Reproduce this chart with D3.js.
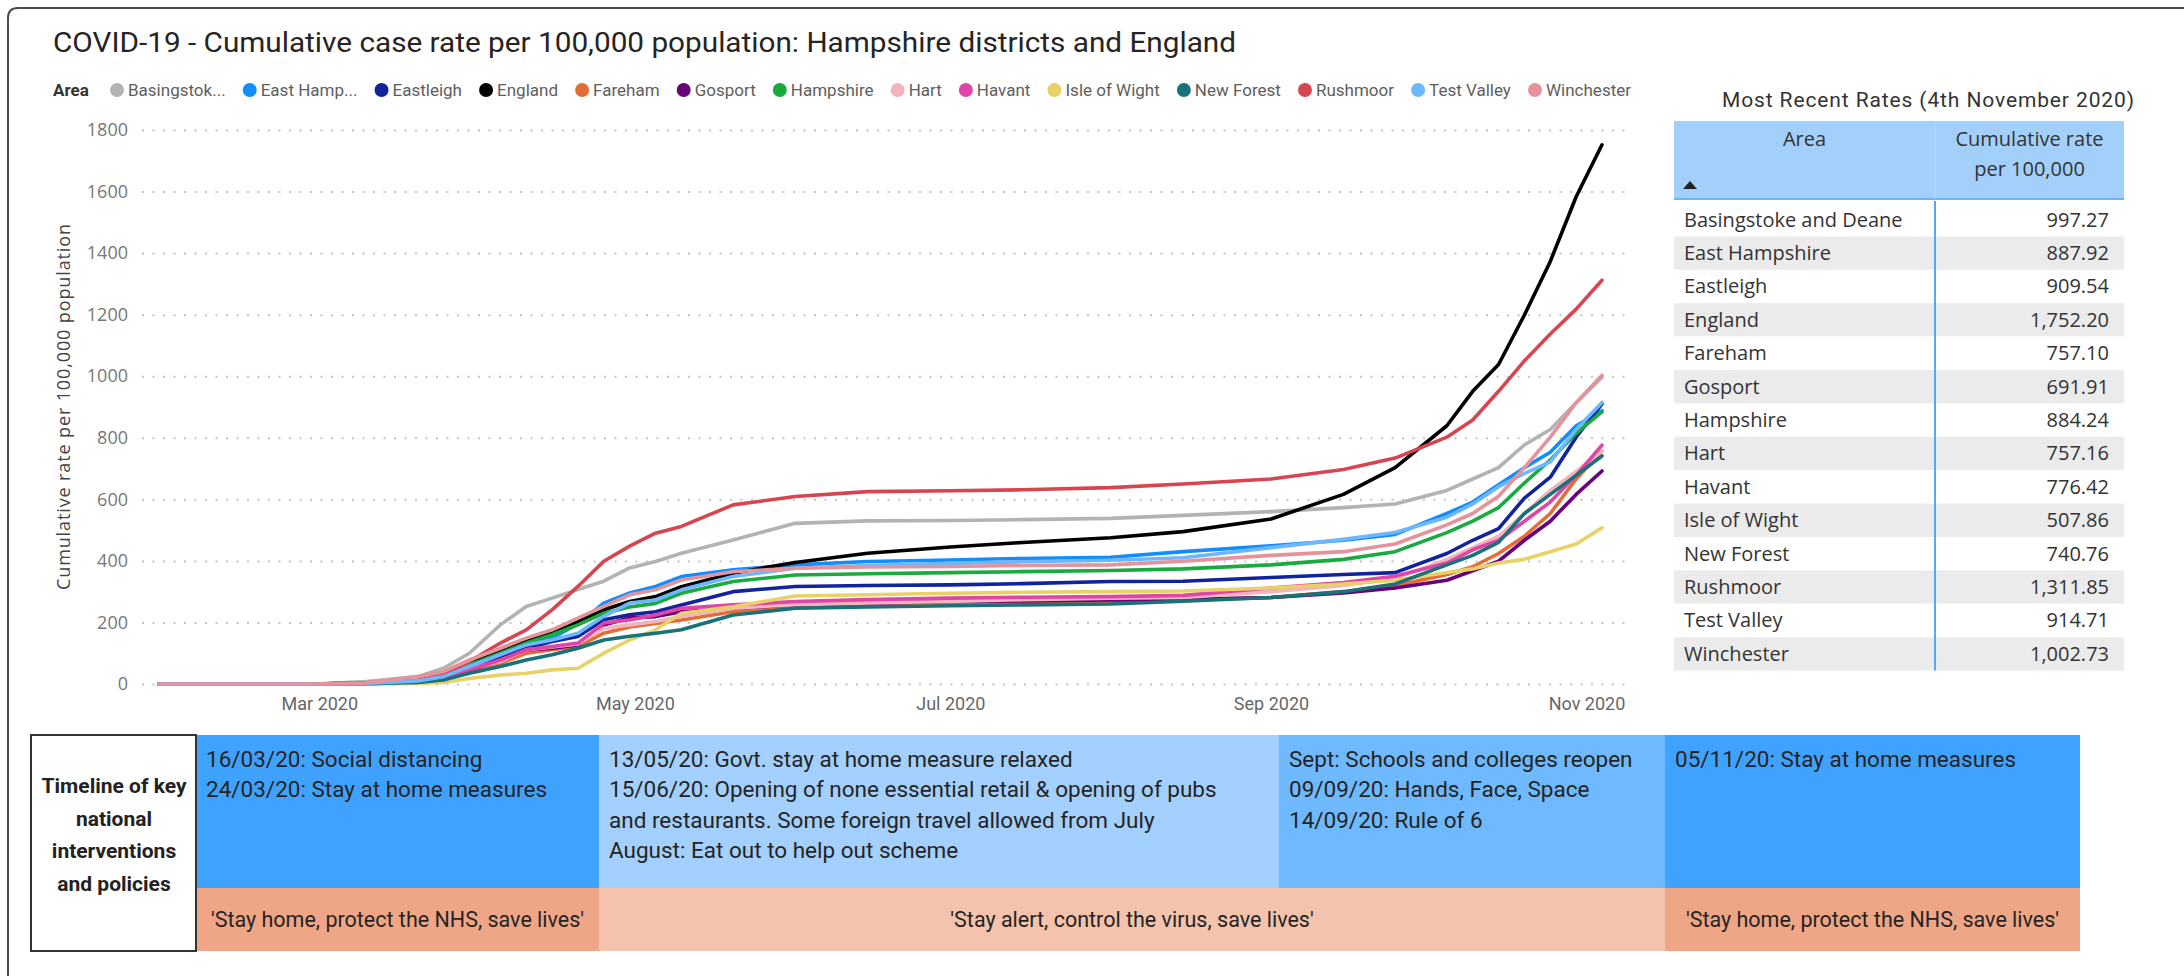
<!DOCTYPE html>
<html>
<head>
<meta charset="utf-8">
<script src="https://cdn.jsdelivr.net/npm/d3@7"></script>
<style>
  body { margin: 0; background: #fff; }
  text { font-family: Roboto, sans-serif; }
  .segoe { font-family: "Open Sans", "Noto Sans", sans-serif; }
</style>
</head>
<body>
<svg id="chart" width="2184" height="976"></svg>
<script>
// ---- data ----
var dates = ["2020-01-30", "2020-02-29", "2020-03-10", "2020-03-20", "2020-03-25", "2020-03-30", "2020-04-05",
  "2020-04-10", "2020-04-15", "2020-04-20", "2020-04-25", "2020-04-30", "2020-05-05", "2020-05-10", "2020-05-20",
  "2020-06-01", "2020-06-15", "2020-07-01", "2020-07-15", "2020-08-01", "2020-08-15", "2020-09-01", "2020-09-15",
  "2020-09-25", "2020-10-05", "2020-10-10", "2020-10-15", "2020-10-20", "2020-10-25", "2020-10-30", "2020-11-04"];

var areas = ["Basingstoke and Deane", "East Hampshire", "Eastleigh", "England", "Fareham", "Gosport", "Hampshire",
  "Hart", "Havant", "Isle of Wight", "New Forest", "Rushmoor", "Test Valley", "Winchester"];
var legendLabels = ["Basingstok...", "East Hamp...", "Eastleigh", "England", "Fareham", "Gosport", "Hampshire",
  "Hart", "Havant", "Isle of Wight", "New Forest", "Rushmoor", "Test Valley", "Winchester"];
var colors = ["#b3b3b3", "#118dff", "#12239e", "#000000", "#e66c37", "#6b007b", "#1aab40",
  "#f2b5bd", "#e044a7", "#e8d166", "#197278", "#d64550", "#6cb7ff", "#e6929a"];

var basingstoke = [0, 0, 8, 24, 51, 100, 192, 252, 279, 307, 334, 377, 398, 425, 468, 522, 530, 531, 534, 538, 548, 560, 573, 585, 629, 666, 703, 777, 827, 914, 997];
var eastHampshire = [0, 0, 2, 10, 24, 60, 100, 127, 149, 195, 263, 296, 317, 349, 371, 387, 398, 403, 408, 412, 430, 449, 467, 486, 554, 591, 647, 703, 753, 839, 888];
var eastleigh = [0, 0, 2, 8, 24, 55, 89, 115, 138, 154, 209, 225, 235, 257, 300, 317, 320, 322, 326, 333, 334, 346, 356, 362, 424, 467, 505, 604, 672, 802, 910];
var england = [0, 0, 3, 10, 29, 67, 105, 138, 165, 203, 241, 268, 284, 316, 360, 395, 425, 445, 460, 475, 495, 536, 616, 703, 839, 951, 1038, 1199, 1373, 1583, 1752];
var fareham = [0, 0, 1, 6, 20, 40, 67, 100, 111, 122, 165, 185, 197, 208, 235, 251, 256, 260, 264, 268, 272, 281, 300, 319, 356, 381, 424, 480, 554, 666, 757];
var gosport = [0, 0, 1, 6, 22, 45, 78, 111, 116, 127, 192, 215, 219, 235, 246, 257, 262, 268, 270, 273, 275, 281, 296, 312, 337, 368, 399, 467, 529, 616, 692];
var hampshire = [0, 0, 2, 9, 29, 62, 100, 133, 160, 192, 230, 250, 262, 295, 333, 354, 358, 362, 365, 369, 374, 387, 405, 430, 492, 529, 573, 653, 728, 815, 884];
var hart = [0, 0, 2, 8, 22, 50, 73, 111, 120, 130, 181, 192, 203, 219, 246, 258, 263, 268, 274, 279, 281, 300, 320, 343, 405, 443, 480, 554, 629, 691, 757];
var havant = [0, 0, 2, 8, 22, 46, 78, 111, 122, 133, 198, 208, 224, 246, 257, 268, 274, 279, 282, 284, 288, 312, 330, 350, 393, 436, 467, 529, 591, 678, 776];
var isleOfWight = [0, 0, 0, 2, 5, 18, 29, 35, 46, 51, 100, 143, 176, 230, 251, 286, 290, 295, 298, 300, 302, 312, 325, 337, 362, 374, 393, 405, 430, 455, 508];
var newForest = [0, 0, 1, 5, 13, 35, 57, 78, 95, 116, 143, 155, 165, 176, 224, 246, 250, 254, 257, 260, 269, 281, 300, 325, 387, 418, 460, 554, 616, 678, 741];
var rushmoor = [0, 0, 4, 12, 29, 73, 133, 176, 241, 317, 399, 448, 490, 512, 582, 609, 625, 628, 631, 638, 650, 666, 697, 734, 802, 858, 951, 1050, 1137, 1218, 1312];
var testValley = [0, 0, 2, 10, 24, 57, 95, 127, 143, 165, 220, 263, 273, 306, 349, 376, 385, 392, 397, 402, 410, 443, 470, 492, 542, 585, 641, 684, 722, 827, 915];
var winchester = [0, 0, 3, 24, 40, 78, 116, 149, 176, 214, 252, 290, 306, 338, 365, 376, 380, 382, 385, 387, 399, 418, 430, 455, 517, 554, 610, 703, 802, 914, 1003];

var latestRates = [997.27, 887.92, 909.54, 1752.20, 757.10, 691.91, 884.24, 757.16, 776.42, 507.86, 740.76, 1311.85, 914.71, 1002.73];

var yTicks = [0, 200, 400, 600, 800, 1000, 1200, 1400, 1600, 1800];
var xTicks = ["2020-03-01", "2020-05-01", "2020-07-01", "2020-09-01", "2020-11-01"];

var timelineText = [
  ["16/03/20: Social distancing", "24/03/20: Stay at home measures"],
  ["13/05/20: Govt. stay at home measure relaxed", "15/06/20: Opening of none essential retail & opening of pubs",
   "and restaurants. Some foreign travel allowed from July", "August: Eat out to help out scheme"],
  ["Sept: Schools and colleges reopen", "09/09/20: Hands, Face, Space", "14/09/20: Rule of 6"],
  ["05/11/20: Stay at home measures"]
];
var sloganText = ["'Stay home, protect the NHS, save lives'", "'Stay alert, control the virus, save lives'",
  "'Stay home, protect the NHS, save lives'"];
var timelineLabel = ["Timeline of key", "national", "interventions", "and policies"];

var seriesValues = [basingstoke, eastHampshire, eastleigh, england, fareham, gosport, hampshire,
  hart, havant, isleOfWight, newForest, rushmoor, testValley, winchester];

// ---- drawing ----
var parseDate = d3.timeParse("%Y-%m-%d");
var svg = d3.select("#chart");

// outer frame (top and left edge of the report page)
svg.append("path")
  .attr("d", "M8,976 L8,18 Q8,8 18,8 L2184,8")
  .style("fill", "none")
  .style("stroke", "#4a4a4a")
  .style("stroke-width", 2);

svg.append("text")
  .attr("x", 53).attr("y", 42)
  .attr("dy", "0.35em")
  .attr("textLength", 1183).attr("lengthAdjust", "spacingAndGlyphs")
  .style("font-size", "28px")
  .style("fill", "#252423")
  .text("COVID-19 - Cumulative case rate per 100,000 population: Hampshire districts and England");

// legend
var legend = svg.append("g").attr("transform", "translate(0,90)");
legend.append("text")
  .attr("x", 53).attr("dy", "0.35em")
  .style("font-size", "17px").style("font-weight", "bold").style("fill", "#333")
  .text("Area");
var items = legend.selectAll("g.item").data(legendLabels).join("g").attr("class", "item");
items.append("circle").attr("r", 7).style("fill", function(d, i) { return colors[i]; });
items.append("text")
  .attr("x", 11).attr("dy", "0.35em")
  .style("font-size", "17px").style("fill", "#605e5c")
  .text(function(d) { return d; });
var widths = items.nodes().map(function(n) { return n.querySelector("text").getComputedTextLength(); });
var gap = (1631 - 110 - d3.sum(widths) - 18 * widths.length) / (widths.length - 1);
var cx = 117;
items.attr("transform", function(d, i) {
  var t = "translate(" + cx + ",0)";
  cx += 18 + widths[i] + gap;
  return t;
});

// scales
var x = d3.scaleTime()
  .domain([parseDate(dates[0]), parseDate(dates[dates.length - 1])])
  .range([159, 1602]);
var y = d3.scaleLinear().domain([0, 1800]).range([684, 130]);

// y axis with dotted gridlines
var yAxis = svg.append("g")
  .attr("transform", "translate(142,0)")
  .call(d3.axisLeft(y).tickValues(yTicks).tickSize(-1485).tickPadding(14).tickFormat(d3.format("d")));
yAxis.select(".domain").remove();
yAxis.selectAll(".tick line")
  .style("stroke", "#c4c4c4").style("stroke-width", 2).style("stroke-dasharray", "2,8.5");
yAxis.selectAll(".tick text")
  .attr("class", "segoe").style("font-size", "18px").style("fill", "#777");

svg.append("text")
  .attr("class", "segoe")
  .attr("transform", "translate(64,407) rotate(-90)")
  .attr("text-anchor", "middle").attr("dy", "0.35em")
  .attr("textLength", 366)
  .style("font-size", "18px").style("fill", "#444")
  .text("Cumulative rate per 100,000 population");

// x axis
var xAxis = svg.append("g")
  .attr("transform", "translate(0,684)")
  .call(d3.axisBottom(x).tickValues(xTicks.map(parseDate)).tickSize(0).tickPadding(13)
    .tickFormat(d3.timeFormat("%b %Y")));
xAxis.select(".domain").remove();
xAxis.selectAll(".tick text").style("font-size", "18px").style("fill", "#666");

// lines
var line = d3.line()
  .x(function(d) { return x(d.date); })
  .y(function(d) { return y(d.value); });
var series = areas.map(function(name, i) {
  return {
    name: name,
    color: colors[i],
    points: dates.map(function(dt, j) { return { date: parseDate(dt), value: seriesValues[i][j] }; })
  };
});
svg.append("g").selectAll("path").data(series).join("path")
  .attr("d", function(d) { return line(d.points); })
  .style("fill", "none")
  .style("stroke", function(d) { return d.color; })
  .style("stroke-width", 3.6)
  .style("stroke-linejoin", "round")
  .style("stroke-linecap", "round");

// table of latest rates
svg.append("text")
  .attr("x", 1928).attr("y", 100).attr("dy", "0.35em")
  .attr("text-anchor", "middle")
  .attr("textLength", 412)
  .style("font-size", "21px").style("fill", "#333")
  .text("Most Recent Rates (4th November 2020)");

var tbl = svg.append("g");
var tLeft = 1674, tMid = 1935, tRight = 2124, headTop = 121, headBottom = 199, rowH = 33.4;
tbl.append("rect").attr("x", tLeft).attr("y", headTop).attr("width", tRight - tLeft).attr("height", headBottom - headTop)
  .style("fill", "#a3cffb");
tbl.append("line").attr("x1", tLeft).attr("x2", tRight).attr("y1", headBottom).attr("y2", headBottom)
  .style("stroke", "#6fb3f7").style("stroke-width", 2);
tbl.append("line").attr("x1", tMid).attr("x2", tMid).attr("y1", headTop).attr("y2", headBottom)
  .style("stroke", "#b9dafc").style("stroke-width", 1);
tbl.append("text").attr("class", "segoe").attr("x", (tLeft + tMid) / 2).attr("y", 139).attr("dy", "0.35em")
  .attr("text-anchor", "middle").style("font-size", "20px").style("fill", "#333").text("Area");
tbl.append("text").attr("class", "segoe").attr("x", (tMid + tRight) / 2).attr("y", 139).attr("dy", "0.35em")
  .attr("text-anchor", "middle").style("font-size", "20px").style("fill", "#333").text("Cumulative rate");
tbl.append("text").attr("class", "segoe").attr("x", (tMid + tRight) / 2).attr("y", 169).attr("dy", "0.35em")
  .attr("text-anchor", "middle").style("font-size", "20px").style("fill", "#333").text("per 100,000");
tbl.append("path").attr("d", "M1683,189 L1697,189 L1690,181 Z").style("fill", "#222");

var rows = tbl.selectAll("g.row").data(areas).join("g").attr("class", "row")
  .attr("transform", function(d, i) { return "translate(0," + (203 + i * rowH) + ")"; });
rows.append("rect").attr("x", tLeft).attr("width", tRight - tLeft).attr("height", rowH)
  .style("fill", function(d, i) { return i % 2 ? "#ebebeb" : "#fff"; });
rows.append("text").attr("class", "segoe").attr("x", 1684).attr("y", rowH / 2).attr("dy", "0.35em")
  .style("font-size", "20px").style("fill", "#333").text(function(d) { return d; });
rows.append("text").attr("class", "segoe").attr("x", 2109).attr("y", rowH / 2).attr("dy", "0.35em")
  .attr("text-anchor", "end")
  .style("font-size", "20px").style("fill", "#333")
  .text(function(d, i) { return d3.format(",.2f")(latestRates[i]); });
tbl.append("line").attr("x1", tMid).attr("x2", tMid).attr("y1", headBottom + 2).attr("y2", 203 + areas.length * rowH)
  .style("stroke", "#5aa6f5").style("stroke-width", 2);

// timeline of interventions
var edges = [196, 599, 1279, 1665, 2080];
var blueFill = ["#40a2ff", "#a3d0fe", "#6fb9ff", "#40a2ff"];
var tlTop = 735, tlMid = 888, tlBottom = 951;
var tl = svg.append("g");
timelineText.forEach(function(lines, i) {
  tl.append("rect").attr("x", edges[i]).attr("y", tlTop).attr("width", edges[i + 1] - edges[i]).attr("height", tlMid - tlTop)
    .style("fill", blueFill[i]);
  tl.append("g").selectAll("text").data(lines).join("text")
    .attr("x", edges[i] + 10)
    .attr("y", function(d, j) { return 759 + j * 30.5; })
    .attr("dy", "0.35em")
    .style("font-size", "22.5px").style("fill", "#252423")
    .text(function(d) { return d; });
});
var sloganSpan = [[0, 1], [1, 3], [3, 4]];
var sloganFill = ["#efa687", "#f3c3ad", "#efa687"];
sloganText.forEach(function(s, i) {
  var a = edges[sloganSpan[i][0]], b = edges[sloganSpan[i][1]];
  tl.append("rect").attr("x", a).attr("y", tlMid).attr("width", b - a).attr("height", tlBottom - tlMid)
    .style("fill", sloganFill[i]);
  tl.append("text").attr("x", (a + b) / 2).attr("y", 919).attr("dy", "0.35em")
    .attr("text-anchor", "middle")
    .style("font-size", "21.5px").style("fill", "#252423")
    .text(s);
});

tl.append("rect").attr("x", 31).attr("y", tlTop).attr("width", 196 - 31).attr("height", tlBottom - tlTop)
  .style("fill", "#fff").style("stroke", "#333").style("stroke-width", 2);
tl.append("g").selectAll("text").data(timelineLabel).join("text")
  .attr("x", 114)
  .attr("y", function(d, j) { return 786 + j * 32.5; })
  .attr("dy", "0.35em")
  .attr("text-anchor", "middle")
  .style("font-size", "21px").style("font-weight", "bold").style("fill", "#222")
  .text(function(d) { return d; });
</script>
</body>
</html>
